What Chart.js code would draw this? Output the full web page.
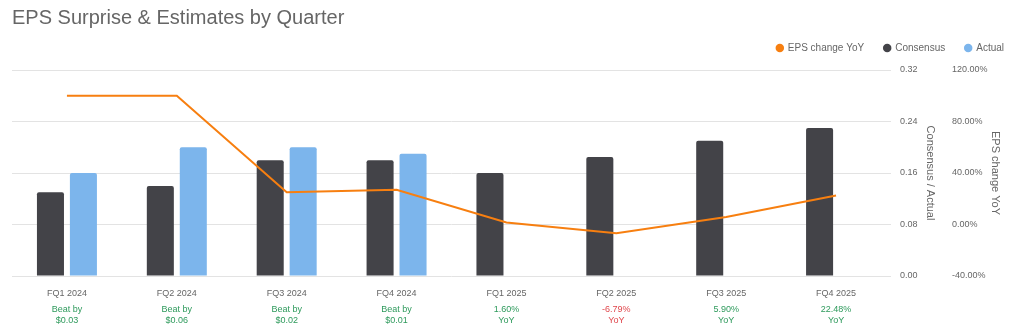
<!DOCTYPE html>
<html>
<head>
<meta charset="utf-8">
<title>EPS Surprise & Estimates by Quarter</title>
<script src="https://cdn.jsdelivr.net/npm/chart.js@4"></script>
<style>
  html, body { margin: 0; padding: 0; background: #fff; }
  #wrap { width: 1024px; height: 331px; position: relative; }
</style>
</head>
<body>
<div id="wrap"><canvas id="eps-chart"></canvas></div>
<script>
// EPS surprise chart: consensus vs actual bars, YoY change line

const quarters = ["FQ1 2024", "FQ2 2024", "FQ3 2024", "FQ4 2024", "FQ1 2025", "FQ2 2025", "FQ3 2025", "FQ4 2025"];
const consensus = [0.13, 0.14, 0.18, 0.18, 0.16, 0.185, 0.21, 0.23];
const actual = [0.16, 0.20, 0.20, 0.19, null, null, null, null];
const epsChangeYoY = [100, 100, 25, 27, 1.60, -6.79, 5.90, 22.48];
const surpriseText = [
  ["Beat by", "$0.03"], ["Beat by", "$0.06"], ["Beat by", "$0.02"], ["Beat by", "$0.01"],
  ["1.60%", "YoY"], ["-6.79%", "YoY"], ["5.90%", "YoY"], ["22.48%", "YoY"],
];
const surpriseColor = ["#2e9a5c", "#2e9a5c", "#2e9a5c", "#2e9a5c", "#2e9a5c", "#e0484d", "#2e9a5c", "#2e9a5c"];

const FONT = "'Liberation Sans', Arial, sans-serif";
const GREY = "#666666";

// push the plot area a bit further below the legend row
const legendGap = {
  id: "legendGap",
  beforeInit(chart) {
    const fit = chart.legend.fit;
    chart.legend.fit = function () {
      fit.call(this);
      this.height += 7;
    };
  },
};

const ctx = document.getElementById("eps-chart");

new Chart(ctx, {
  type: "bar",
  data: {
    labels: quarters,
    datasets: [
      {
        type: "line",
        label: "EPS change YoY",
        data: epsChangeYoY,
        yAxisID: "y1",
        borderColor: "#f77f10",
        backgroundColor: "#f77f10",
        borderWidth: 2,
        pointRadius: 0,
        tension: 0,
        fill: false,
        order: 0,
      },
      {
        label: "Consensus",
        data: consensus,
        yAxisID: "y",
        backgroundColor: "#434348",
        borderRadius: 2,
        borderSkipped: "bottom",
        barPercentage: 0.82,
        categoryPercentage: 0.6,
        order: 1,
      },
      {
        label: "Actual",
        data: actual,
        yAxisID: "y",
        backgroundColor: "#7cb5ec",
        borderRadius: 2,
        borderSkipped: "bottom",
        barPercentage: 0.82,
        categoryPercentage: 0.6,
        order: 1,
      },
    ],
  },
  plugins: [legendGap],
  options: {
    responsive: true,
    maintainAspectRatio: false,
    animation: false,
    layout: { padding: { left: 12, right: 0, top: 4, bottom: 0 } },
    plugins: {
      title: {
        display: true,
        text: "EPS Surprise & Estimates by Quarter",
        align: "start",
        color: GREY,
        font: { family: FONT, size: 20, weight: "normal", lineHeight: "10px" },
        padding: { top: 9, bottom: 0 },
      },
      legend: {
        display: true,
        position: "top",
        align: "end",
        labels: {
          usePointStyle: true,
          pointStyle: "circle",
          boxWidth: 6,
          boxHeight: 6,
          padding: 20,
          color: GREY,
          font: { family: FONT, size: 10 },
          generateLabels: chart =>
            Chart.defaults.plugins.legend.labels.generateLabels(chart).map(item => ({ ...item, lineWidth: 0 })),
        },
      },
      tooltip: { enabled: false },
    },
    scales: {
      x: {
        position: "bottom",
        grid: { display: false, drawTicks: false },
        border: { display: false },
        ticks: { color: GREY, font: { family: FONT, size: 9 }, padding: 12, maxRotation: 0 },
        afterFit: s => { s.height = 23; },
      },
      x2: {
        type: "category",
        labels: surpriseText,
        position: "bottom",
        offset: true,
        grid: { display: false, drawTicks: false },
        border: { display: false },
        ticks: {
          color: c => surpriseColor[c.index],
          font: { family: FONT, size: 9, lineHeight: 1.2 },
          padding: 5,
          maxRotation: 0,
        },
        afterFit: s => { s.height = 32; },
      },
      y: {
        position: "right",
        min: 0,
        max: 0.32,
        grid: { color: "#e3e3e3", drawTicks: false },
        border: { display: false },
        ticks: {
          stepSize: 0.08,
          padding: 9,
          color: GREY,
          font: { family: FONT, size: 9 },
          callback: v => v.toFixed(2),
        },
        title: {
          display: true,
          text: "Consensus / Actual",
          color: GREY,
          font: { family: FONT, size: 11 },
          padding: { top: 5, bottom: 0 },
        },
        afterFit: s => { s.width = 51; },
      },
      y1: {
        position: "right",
        min: -40,
        max: 120,
        grid: { display: false, drawTicks: false },
        border: { display: false },
        ticks: {
          stepSize: 40,
          padding: 10,
          color: GREY,
          font: { family: FONT, size: 9 },
          callback: v => v.toFixed(2) + "%",
        },
        title: {
          display: true,
          text: "EPS change YoY",
          color: GREY,
          font: { family: FONT, size: 11 },
          padding: { top: 22, bottom: 0 },
        },
        afterFit: s => { s.width = 82; },
      },
    },
  },
});
</script>
</body>
</html>
